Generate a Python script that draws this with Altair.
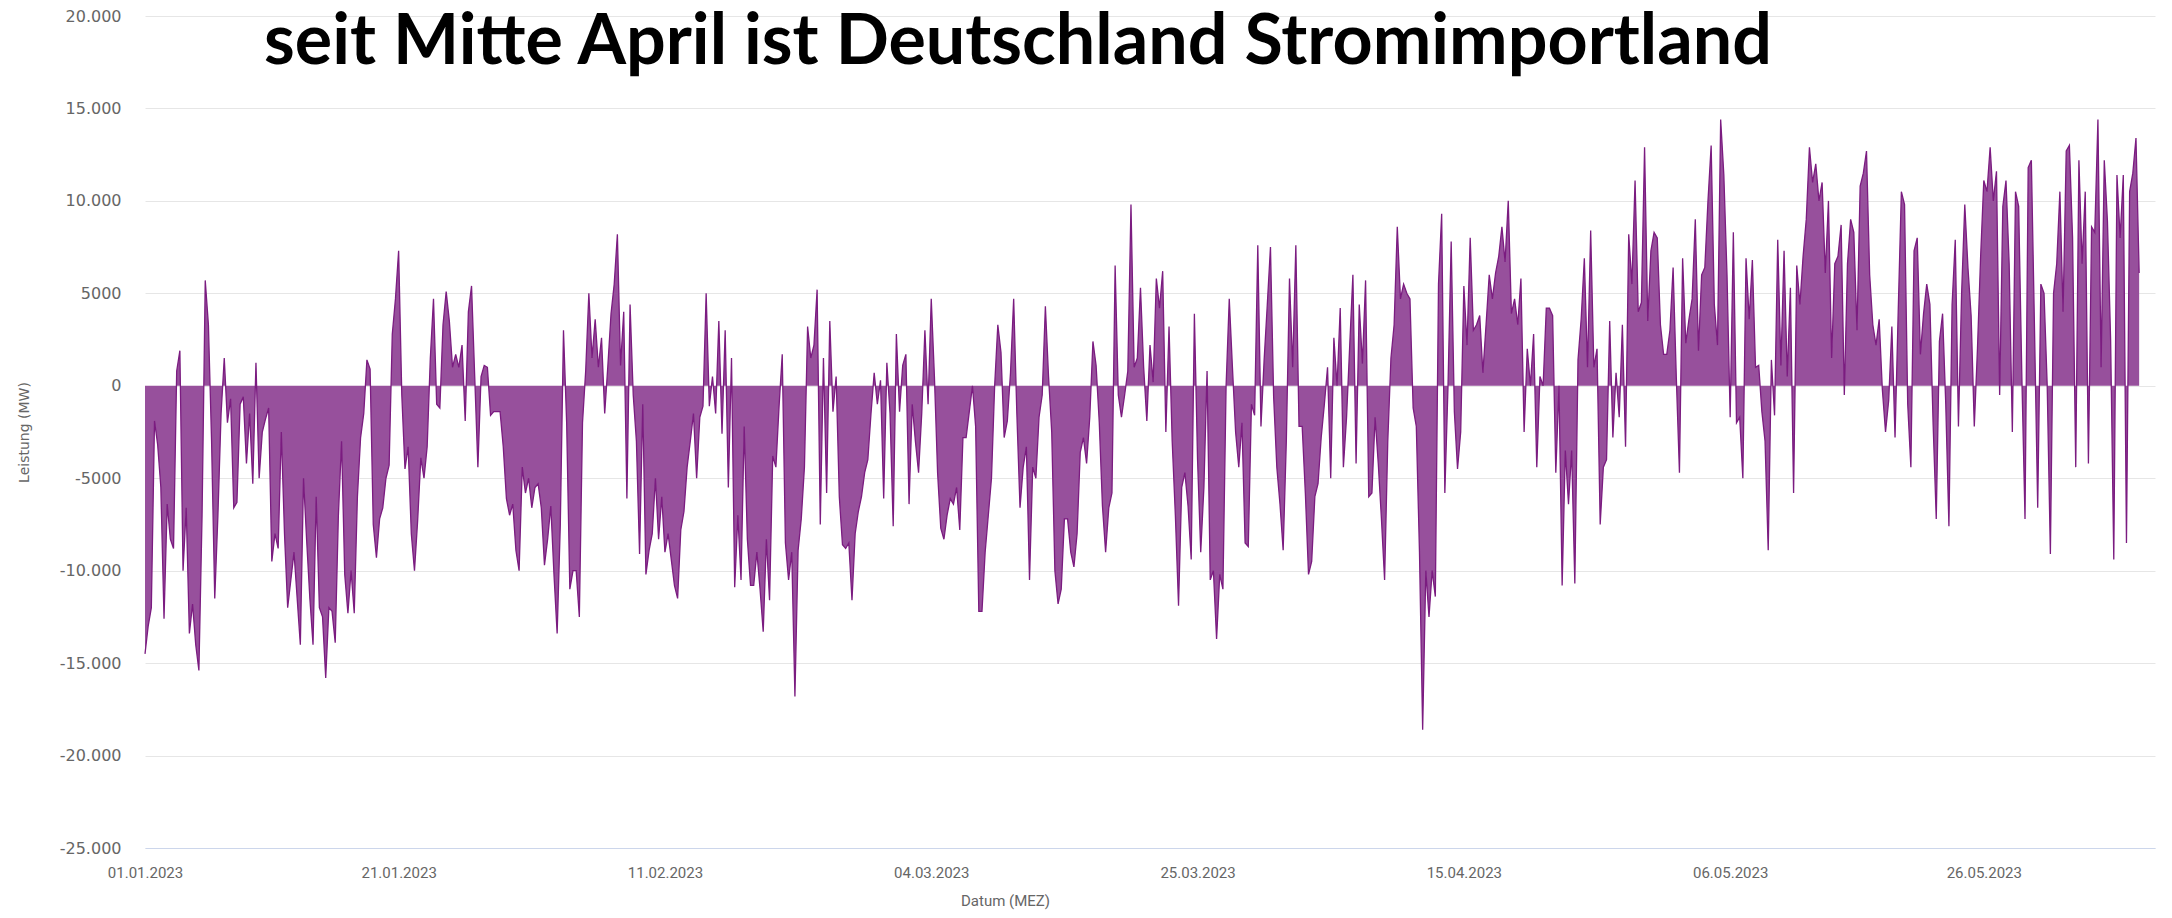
import altair as alt
import pandas as pd

TITLE = "seit Mitte April ist Deutschland Stromimportland"

# 6-hourly net export/import power (MW), starting 01.01.2023 00:00
values_jan = [
    -14500, -13000, -12000, -1900, -3200, -5500, -12600, -6400, -8300, -8800,
    800, 1900, -10000, -6600, -13400, -11800, -14000, -15400, -7000, 5700,
    3300, -3000, -11500, -7000, -1500, 1500, -2000, -700, -6600, -6300,
    -1000, -600, -4200, -1500, -5300, 1250, -5000, -2500, -1800, -1200,
    -9500, -8000, -8800, -2500, -8000, -12000, -10500, -9000, -11500, -14000,
    -5000, -8400, -11500, -14000, -6000, -12000, -12500, -15800, -12000, -12200,
    -13900, -7000, -3000, -10200, -12300, -10000, -12300, -6000, -2800, -1500,
    1400, 900, -7500, -9300, -7200, -6600, -5000, -4300, 2800, 4700,
    7300, -500, -4500, -3300, -8000, -10000, -7300, -3900, -5000, -3300,
    1500,
]
values_feb = [
    4700, -1000, -1200, 3300, 5100, 3500, 1000, 1700, 1000, 2200,
    -1900, 4000, 5400, 500, -4400, 500, 1100, 1000, -1600, -1400,
    -1400, -1400, -3300, -6100, -7000, -6400, -8900, -10000, -4400, -5800,
    -5000, -6600, -5500, -5300, -6600, -9700, -8300, -6500, -10200, -13400,
    -7500, 3000, -2000, -11000, -10000, -10000, -12500, -2000, 800, 5000,
    1500, 3600, 1000, 2600, -1500, 1100, 3900, 5500, 8200, 1100,
    4000, -6100, 4400, -500, -3000, -9100, -1000, -10200, -8900, -8000,
    -5000, -8300, -6000, -9000, -8000, -9400, -10800, -11500, -7800, -6800,
    -4400, -3000, -1500, -5000, -1700, -1100, 5000, -1100, 500, -1500,
]
values_mar1 = [
    3500, -2600, 3000, -5500, 1500, -10900, -7000, -10500, -2200, -8300,
    -10800, -10800, -9000, -11000, -13300, -8300, -11600, -3800, -4400, -1100,
    1700, -8500, -10500, -9000, -16800, -8900, -7200, -4400, 3200, 1500,
    2200, 5200, -7500, 1500, -5800, 3500, -1400, 500, -6000, -8600,
    -8800, -8500, -11600, -8000, -6800, -6000, -4700, -4000, -1500, 700,
    -1000, 300, -6100, 1250, -1500, -7600, 2800, -1400, 1100, 1700,
    -6400, -1000, -3000, -4700, -1500, 3000, -1000, 4700, 500, -4700,
    -7700, -8300, -7000, -6100, -6400, -5500, -7800, -2800, -2800, -1400,
    0, -2200, -12200, -12200, -9000, -7000, -5000, 0, 3300, 1800,
]
values_mar2 = [
    -2800, -1900, 700, 4700, -1500, -6600, -4400, -3300, -10500, -4400,
    -5000, -1700, -500, 4300, 500, -2500, -10000, -11800, -11000, -7200,
    -7200, -9000, -9800, -8000, -3600, -2800, -4200, -1700, 2400, 1100,
    -2000, -6500, -9000, -6600, -5800, 6500, -500, -1700, -500, 800,
    9800, 1000, 1500, 5300, 1000, -1900, 2200, 200, 5800, 4200,
    6200, -2500, 3200, -3000, -7000, -11900, -5500, -4700, -6500, -9400,
    3900, -4000, -9000, -5500, 800, -10500, -10000, -13700, -10200, -11000,
    0, 4700, 1000, -2500, -4400, -2000, -8500, -8700, -1000, -1600,
    7600, -2200, 1400, 4400, 7500, -600, -4400, -6400, -8900, -3000,
]
values_apr = [
    5800, 1000, 7600, -2200, -2200, -5800, -10200, -9500, -6000, -5300,
    -2800, -1000, 1000, -5000, 2600, 0, 4200, -4400, -1700, 2200,
    6000, -4200, 4400, 1200, 5700, -6000, -5800, -1700, -4200, -7200,
    -10500, -3000, 1500, 3300, 8600, 4700, 5500, 5000, 4700, -1200,
    -2200, -9000, -18600, -10000, -12500, -10000, -11400, 5500, 9300, -5800,
    0, 7800, -1400, -4500, -2500, 5400, 2200, 8000, 3000, 3300,
    3800, 700, 3300, 6000, 4700, 6100, 7000, 8600, 6700, 10000,
    3900, 4700, 3300, 5800, -2500, 2000, 0, 2800, -4400, 500,
    0, 4200, 4200, 3800, -4700, 0, -10800, -3500, -6400, -3500,
]
values_may1 = [
    -10700, 1400, 3600, 6900, 1000, 8400, 1000, 2000, -7500, -4400,
    -4000, 3500, -2800, 700, -1700, 3300, -3300, 8200, 5500, 11100,
    4000, 4500, 12900, 3500, 7300, 8300, 8000, 3300, 1700, 1700,
    3000, 6400, 500, -4700, 6900, 2300, 3600, 4700, 9000, 1900,
    6000, 6400, 10000, 13000, 4400, 2200, 14400, 11400, 6000, -1700,
    8300, -2000, -1700, -5000, 6900, 3600, 6800, 1000, 1100, -1400,
    -3000, -8900, 1400, -1600, 7900, 1100, 7300, 500, 5300, -5800,
    6500, 4400, 7000, 9000, 12900, 11000, 12000, 10000, 11000, 6100,
    10000, 1500, 6600, 7000, 8700, -500, 6600, 9000, 8300, 3000,
]
values_may2 = [
    10800, 11500, 12700, 6000, 3300, 2200, 3600, -200, -2500, -800,
    3200, -2800, 4000, 10500, 9800, -1000, -4400, 7300, 8000, 1700,
    3900, 5500, 4400, -2000, -7200, 2400, 3900, -1000, -7600, 4400,
    7900, -2200, 5000, 9800, 6400, 3800, -2200, 2000, 7000, 11100,
    10500, 12900, 10000, 11600, -500, 9700, 11100, 6600, -2500, 10500,
    9700, 500, -7200, 11800, 12200, 3000, -6600, 5500, 5000, 0,
    -9100, 5000, 6600, 10500, 4000, 12700, 13000, 8000, -4400, 12200,
    6600, 10500, -4200, 8600, 8300, 14400, 1000, 12200, 8900, 2500,
    -9400, 11400, 8000, 11400, -8500, 10500, 11500, 13400, 6100,
]

values = values_jan + values_feb + values_mar1 + values_mar2 + values_apr + values_may1 + values_may2
times = pd.date_range("2023-01-01 00:00", periods=len(values), freq="6h")
df = pd.DataFrame({"Datum": times, "Leistung": values})

y_ticks = list(range(-25000, 20001, 5000))
x_ticks = [
    alt.DateTime(year=2023, month=1, date=1),
    alt.DateTime(year=2023, month=1, date=21),
    alt.DateTime(year=2023, month=2, date=11),
    alt.DateTime(year=2023, month=3, date=4),
    alt.DateTime(year=2023, month=3, date=25),
    alt.DateTime(year=2023, month=4, date=15),
    alt.DateTime(year=2023, month=5, date=6),
    alt.DateTime(year=2023, month=5, date=26),
]

W, H = 2010, 832
label_color = "#666666"
narrow = "Liberation Sans Narrow, Roboto, sans-serif"

y_label_expr = (
    "(datum.value < 0 ? '-' : '') + (abs(datum.value) >= 10000 ? "
    "replace(format(abs(datum.value), ','), ',', '.') : format(abs(datum.value), 'd'))"
)

area = alt.Chart(df).mark_area(
    fill="#97509c",
    fillOpacity=1,
    line={"color": "#7b1c80", "strokeWidth": 1.3},
).encode(
    x=alt.X(
        "Datum:T",
        scale=alt.Scale(domain=[alt.DateTime(year=2023, month=1, date=1),
                                alt.DateTime(year=2023, month=6, date=8, hours=12)]),
        axis=alt.Axis(
            values=x_ticks,
            format="%d.%m.%Y",
            title="Datum (MEZ)",
            grid=False,
            ticks=False,
            domain=True,
            domainColor="#ccd6eb",
            domainWidth=1,
            labelFlush=False,
            labelOverlap=False,
            labelBound=False,
            labelPadding=17,
            labelFont=narrow,
            labelFontSize=15,
            labelColor=label_color,
            titleFont=narrow,
            titleFontSize=15,
            titleFontWeight="normal",
            titleColor=label_color,
            titleX=W / 2 - 145,
            titleY=52,
            titleBaseline="middle",
            titleAlign="center",
        ),
    ),
    y=alt.Y(
        "Leistung:Q",
        scale=alt.Scale(domain=[-25000, 20000], nice=False, zero=True),
        axis=alt.Axis(
            values=y_ticks,
            labelExpr=y_label_expr,
            title="Leistung (MW)",
            grid=True,
            gridColor="#e6e6e6",
            gridWidth=1,
            domain=False,
            ticks=False,
            labelPadding=24,
            labelFont="DejaVu Sans",
            labelFontSize=16,
            labelColor=label_color,
            titleFont="DejaVu Sans",
            titleFontSize=14,
            titleFontWeight="normal",
            titleColor=label_color,
            titleAngle=-90,
            titleX=-121,
            titleY=H / 2,
            titleAlign="center",
            titleBaseline="middle",
        ),
    ),
)

title_df = pd.DataFrame({"t": [TITLE]})
title = alt.Chart(title_df).mark_text(
    font="Lato",
    fontWeight="bold",
    fontSize=70,
    color="#000000",
    align="center",
    baseline="alphabetic",
).encode(
    text="t:N",
    x=alt.value(873),
    y=alt.value(48),
)

chart = alt.layer(area, title).properties(
    width=W,
    height=H,
    autosize=alt.AutoSizeParams(type="none"),
    padding={"left": 137, "top": 8, "right": 7, "bottom": 62},
).configure_view(stroke=None)

chart.save("out.html", embed_options={"renderer": "svg", "actions": False})
